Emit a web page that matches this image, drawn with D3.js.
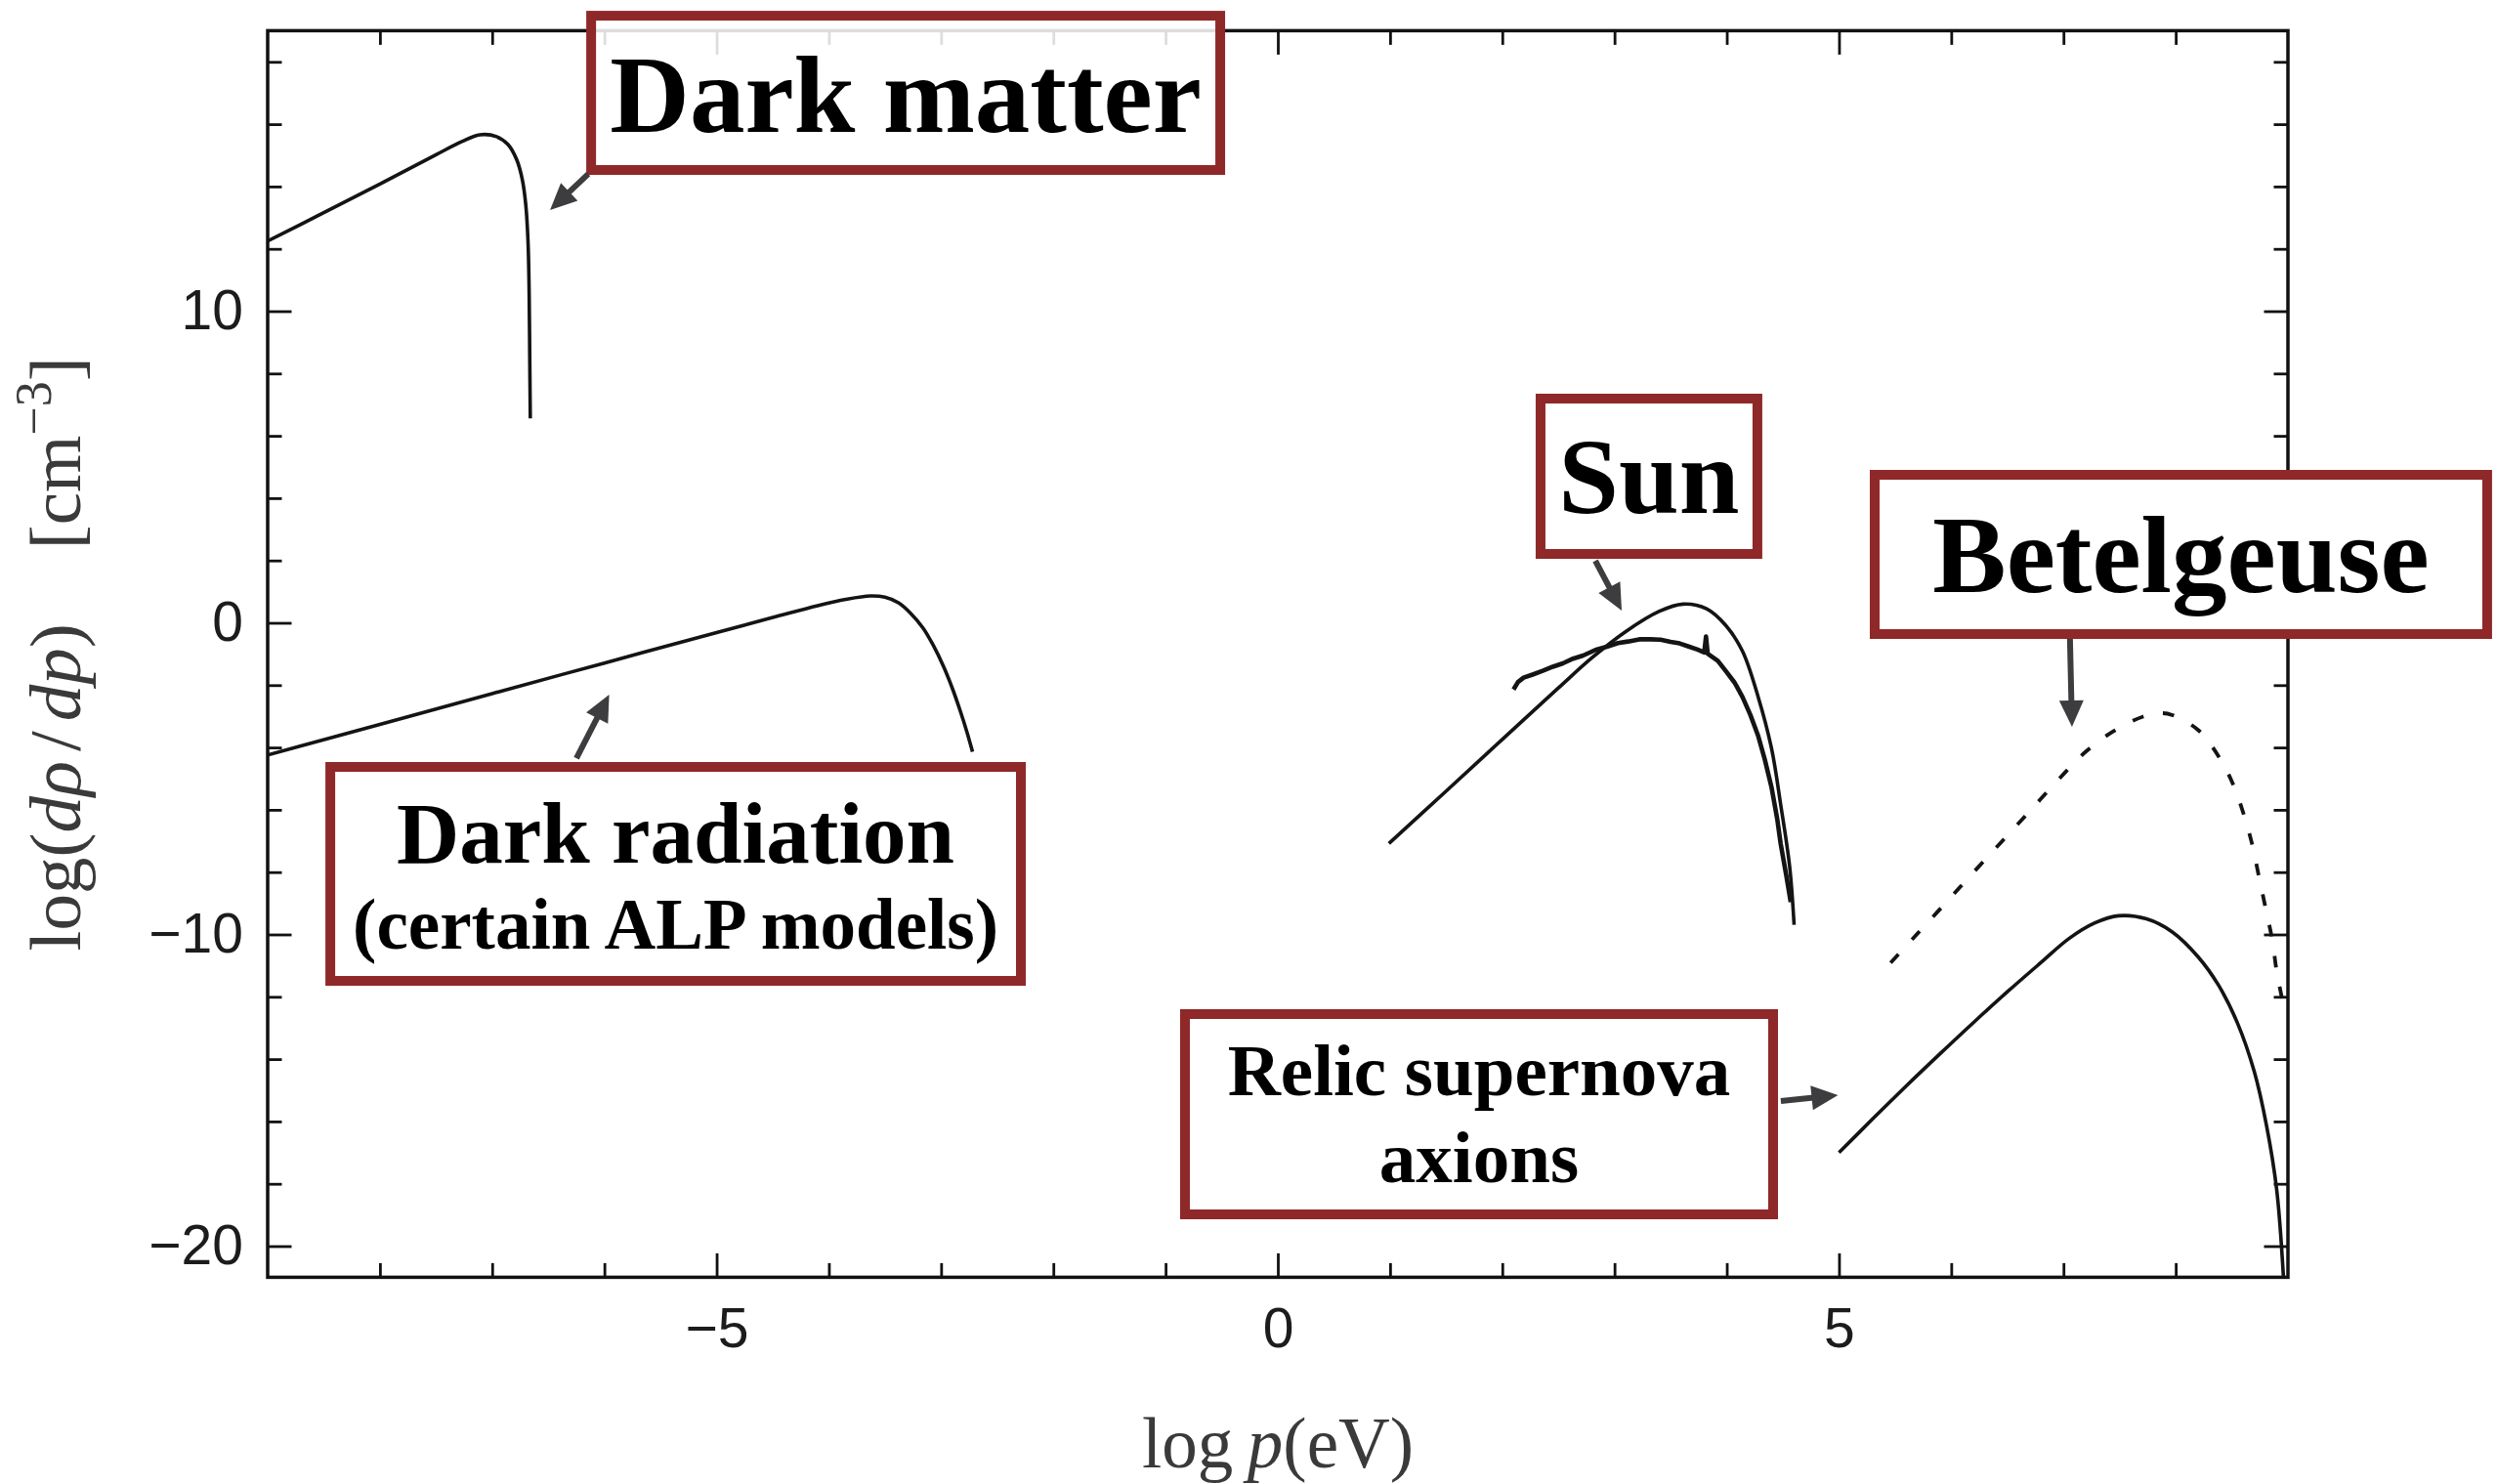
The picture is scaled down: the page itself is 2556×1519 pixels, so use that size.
<!DOCTYPE html>
<html>
<head>
<meta charset="utf-8">
<script src="https://cdn.jsdelivr.net/npm/d3@7"></script>
<style>
  html, body { margin: 0; padding: 0; background: #ffffff; }
  svg { display: block; }
</style>
</head>
<body>
<svg id="chart" width="2556" height="1519"></svg>
<script>
// ---- axes ----
const xDomain = [-9, 9];
const yDomain = [-21, 19];
const xMajorTicks = [-5, 0, 5];
const xMinorTicks = [-8, -7, -6, -4, -3, -2, -1, 1, 2, 3, 4, 6, 7, 8];
const yMajorTicks = [-20, -10, 0, 10];
const yMinorTicks = [-18, -16, -14, -12, -8, -6, -4, -2, 2, 4, 6, 8, 12, 14, 16, 18];

// ---- spectra: [log p (eV), log(dρ/dp) (cm^-3)] ----
const darkMatter = [
  [-9.00, 12.25], [-8.50, 13.16], [-8.00, 14.08], [-7.50, 15.02], [-7.27, 15.44],
  [-7.11, 15.66], [-6.96, 15.60], [-6.86, 15.35], [-6.78, 14.85], [-6.73, 14.20],
  [-6.70, 13.40], [-6.68, 12.20], [-6.67, 10.50], [-6.665, 8.50], [-6.66, 6.56]
];
const darkRadiation = [
  [-9.00, -4.24], [-8.00, -3.26], [-7.00, -2.27], [-6.00, -1.29], [-5.00, -0.31],
  [-4.50, 0.17], [-4.10, 0.55], [-3.85, 0.75], [-3.63, 0.86], [-3.50, 0.82],
  [-3.38, 0.64], [-3.27, 0.30], [-3.16, -0.17], [-3.07, -0.72], [-2.98, -1.39],
  [-2.90, -2.10], [-2.83, -2.82], [-2.77, -3.50], [-2.72, -4.14]
];
const sunModel = [
  [0.99, -7.08], [1.50, -5.40], [2.00, -3.74], [2.50, -2.09], [2.80, -1.12],
  [3.10, -0.28], [3.40, 0.37], [3.61, 0.60], [3.82, 0.45], [3.99, -0.08],
  [4.14, -0.91], [4.28, -2.38], [4.40, -4.05], [4.48, -5.82], [4.56, -7.81],
  [4.60, -9.69]
];
const sunSimulated = [
  [2.10, -2.14], [2.14, -1.90], [2.19, -1.76], [2.27, -1.66], [2.36, -1.54],
  [2.45, -1.41], [2.54, -1.30], [2.63, -1.15], [2.72, -1.05], [2.83, -0.87],
  [2.93, -0.77], [3.03, -0.65], [3.12, -0.60], [3.22, -0.53], [3.32, -0.53],
  [3.41, -0.54], [3.50, -0.61], [3.58, -0.66], [3.66, -0.76], [3.74, -0.86],
  [3.80, -0.95], [3.815, -0.44], [3.83, -0.99], [3.92, -1.22], [3.99, -1.54],
  [4.07, -1.92], [4.14, -2.38], [4.21, -2.95], [4.28, -3.63], [4.34, -4.40],
  [4.40, -5.30], [4.45, -6.30], [4.48, -7.08], [4.53, -8.10], [4.57, -8.96]
];
const betelgeuse = [
  [5.46, -10.91], [5.70, -9.97], [5.95, -8.99], [6.20, -8.00], [6.45, -7.02],
  [6.70, -6.04], [6.95, -5.05], [7.20, -4.13], [7.45, -3.47], [7.71, -3.01],
  [7.88, -2.90], [7.97, -2.96], [8.20, -3.44], [8.39, -4.33], [8.51, -5.17],
  [8.61, -6.19], [8.68, -7.09], [8.74, -8.12], [8.80, -9.14], [8.86, -10.17],
  [8.90, -11.19], [8.95, -12.10]
];
const relicSupernova = [
  [5.00, -17.00], [5.30, -15.92], [5.60, -14.86], [5.90, -13.83], [6.20, -12.82],
  [6.50, -11.84], [6.80, -10.90], [7.05, -10.13], [7.28, -9.63], [7.49, -9.40],
  [7.74, -9.50], [7.97, -9.92], [8.20, -10.72], [8.38, -11.62], [8.55, -12.84],
  [8.70, -14.40], [8.81, -16.15], [8.90, -18.20], [8.96, -21.00]
];

// ---- annotation boxes (data coordinates) ----
const labelBoxes = [
  { x0: -6.118, x1: -0.513, yTop: 19.48, yBot: 14.53, fillOpacity: 0.86,
    lines: [{ text: "Dark matter", y: 15.75, size: 113 }] },
  { x0: 2.341, x1: 4.273, yTop: 7.194, yBot: 2.21, fillOpacity: 1,
    lines: [{ text: "Sun", y: 3.539, size: 111 }] },
  { x0: 5.318, x1: 10.775, yTop: 4.749, yBot: -0.361, fillOpacity: 1,
    lines: [{ text: "Betelgeuse", y: 0.987, size: 113 }] },
  { x0: -8.442, x1: -2.289, yTop: -4.624, yBot: -11.489, fillOpacity: 1,
    lines: [{ text: "Dark radiation", y: -7.708, size: 89 },
            { text: "(certain ALP models)", y: -10.455, size: 73 }] },
  { x0: -0.827, x1: 4.413, yTop: -12.555, yBot: -18.981, fillOpacity: 1,
    lines: [{ text: "Relic supernova", y: -15.157, size: 75 },
            { text: "axions", y: -17.947, size: 75 }] }
];
// arrows from each box toward its curve: [x start, y start, x tip, y tip]
const labelArrows = [
  [-6.144, 14.40, -6.484, 13.245],
  [2.829, 1.991, 3.064, 0.392],
  [7.058, -0.517, 7.076, -3.339],
  [-6.249, -4.342, -5.957, -2.304],
  [4.482, -15.345, 4.991, -15.157]
];

// ---- layout ----
const W = 2556, H = 1519;
const plot = { left: 274, right: 2342, top: 31.4, bottom: 1307.4 };
const boxColor = "#8f2828";
const arrowColor = "#3d3d40";
const axisTextColor = "#3a3a3a";

const svg = d3.select("#chart");
svg.append("rect").attr("width", W).attr("height", H).attr("fill", "#ffffff");

const x = d3.scaleLinear().domain(xDomain).range([plot.left, plot.right]);
const y = d3.scaleLinear().domain(yDomain).range([plot.bottom, plot.top]);

svg.append("defs").append("clipPath").attr("id", "plot-clip")
  .append("rect")
  .attr("x", plot.left).attr("y", plot.top)
  .attr("width", plot.right - plot.left).attr("height", plot.bottom - plot.top);

const fmt = d => (d < 0 ? "\u2212" + Math.abs(d) : String(d));
const majorLen = 24.5, minorLen = 14.5;

function styleAxis(g) {
  g.select(".domain").remove();
  g.selectAll(".tick line").attr("stroke", "#111").attr("stroke-width", 2.8);
  g.selectAll(".tick text")
    .attr("font-family", "'Liberation Sans', Arial, Helvetica, sans-serif")
    .attr("font-size", 57)
    .attr("fill", "#1c1c1c");
}

// bottom
svg.append("g").attr("transform", `translate(0,${plot.bottom})`)
  .call(d3.axisBottom(x).tickValues(xMajorTicks).tickSize(-majorLen).tickPadding(31).tickFormat(fmt))
  .call(styleAxis);
svg.append("g").attr("transform", `translate(0,${plot.bottom})`)
  .call(d3.axisBottom(x).tickValues(xMinorTicks).tickSize(-minorLen).tickFormat(""))
  .call(styleAxis);
// top
svg.append("g").attr("transform", `translate(0,${plot.top})`)
  .call(d3.axisTop(x).tickValues(xMajorTicks).tickSize(-majorLen).tickFormat(""))
  .call(styleAxis);
svg.append("g").attr("transform", `translate(0,${plot.top})`)
  .call(d3.axisTop(x).tickValues(xMinorTicks).tickSize(-minorLen).tickFormat(""))
  .call(styleAxis);
// left
svg.append("g").attr("transform", `translate(${plot.left},0)`)
  .call(d3.axisLeft(y).tickValues(yMajorTicks).tickSize(-majorLen).tickPadding(25).tickFormat(fmt))
  .call(styleAxis);
svg.append("g").attr("transform", `translate(${plot.left},0)`)
  .call(d3.axisLeft(y).tickValues(yMinorTicks).tickSize(-minorLen).tickFormat(""))
  .call(styleAxis);
// right
svg.append("g").attr("transform", `translate(${plot.right},0)`)
  .call(d3.axisRight(y).tickValues(yMajorTicks).tickSize(-majorLen).tickFormat(""))
  .call(styleAxis);
svg.append("g").attr("transform", `translate(${plot.right},0)`)
  .call(d3.axisRight(y).tickValues(yMinorTicks).tickSize(-minorLen).tickFormat(""))
  .call(styleAxis);

// frame
svg.append("rect")
  .attr("x", plot.left).attr("y", plot.top)
  .attr("width", plot.right - plot.left).attr("height", plot.bottom - plot.top)
  .attr("fill", "none").attr("stroke", "#111").attr("stroke-width", 3.5);

// ---- curves ----
const smooth = d3.line().x(d => x(d[0])).y(d => y(d[1])).curve(d3.curveCatmullRom.alpha(0.5));
const jagged = d3.line().x(d => x(d[0])).y(d => y(d[1])).curve(d3.curveLinear);

const curves = svg.append("g").attr("clip-path", "url(#plot-clip)")
  .attr("fill", "none").attr("stroke", "#141414").attr("stroke-linejoin", "round");

curves.append("path").attr("d", smooth(darkMatter)).attr("stroke-width", 3.6);
curves.append("path").attr("d", smooth(darkRadiation)).attr("stroke-width", 3.6);
curves.append("path").attr("d", smooth(sunModel)).attr("stroke-width", 3.6);
curves.append("path").attr("d", jagged(sunSimulated)).attr("stroke-width", 4.6);
curves.append("path").attr("d", smooth(betelgeuse)).attr("stroke-width", 3.8)
  .attr("stroke-dasharray", "12,20");
curves.append("path").attr("d", smooth(relicSupernova)).attr("stroke-width", 3.6);

// ---- labelled boxes ----
const boxStroke = 10;
const boxes = svg.append("g");
labelBoxes.forEach(b => {
  const bx = x(b.x0), by = y(b.yTop);
  boxes.append("rect")
    .attr("x", bx).attr("y", by)
    .attr("width", x(b.x1) - bx).attr("height", y(b.yBot) - by)
    .attr("fill", "#ffffff").attr("fill-opacity", b.fillOpacity)
    .attr("stroke", boxColor).attr("stroke-width", boxStroke);
  const cx = (x(b.x0) + x(b.x1)) / 2;
  b.lines.forEach(l => {
    boxes.append("text")
      .attr("x", cx).attr("y", y(l.y))
      .attr("text-anchor", "middle")
      .attr("font-family", "'Liberation Serif', 'Times New Roman', serif")
      .attr("font-weight", "bold")
      .attr("font-size", l.size)
      .attr("fill", "#000")
      .text(l.text);
  });
});

// ---- arrows ----
const headLen = 27, headHalf = 12.5, shaftW = 6;
const arrows = svg.append("g");
labelArrows.forEach(([xs, ys, xt, yt]) => {
  const x1 = x(xs), y1 = y(ys), x2 = x(xt), y2 = y(yt);
  const len = Math.hypot(x2 - x1, y2 - y1);
  const ux = (x2 - x1) / len, uy = (y2 - y1) / len;
  const bxp = x2 - ux * headLen, byp = y2 - uy * headLen;
  arrows.append("line")
    .attr("x1", x1).attr("y1", y1).attr("x2", bxp + ux * 2).attr("y2", byp + uy * 2)
    .attr("stroke", arrowColor).attr("stroke-width", shaftW);
  const pts = [
    [x2, y2],
    [bxp - uy * headHalf, byp + ux * headHalf],
    [bxp + uy * headHalf, byp - ux * headHalf]
  ];
  arrows.append("polygon")
    .attr("points", pts.map(p => p.join(",")).join(" "))
    .attr("fill", arrowColor);
});

// ---- axis titles ----
const serif = "'Liberation Serif', 'Times New Roman', serif";
const xTitle = svg.append("text")
  .attr("x", x(0)).attr("y", 1502)
  .attr("text-anchor", "middle")
  .attr("font-family", serif).attr("font-size", 73)
  .attr("fill", axisTextColor);
xTitle.append("tspan").text("log\u2009");
xTitle.append("tspan").attr("font-style", "italic").text("p");
xTitle.append("tspan").text("(eV)");

const yTitle = svg.append("text")
  .attr("transform", `translate(82,${(plot.top + plot.bottom) / 2}) rotate(-90)`)
  .attr("text-anchor", "middle")
  .attr("font-family", serif).attr("font-size", 75)
  .attr("fill", axisTextColor);
yTitle.append("tspan").text("log(");
yTitle.append("tspan").attr("font-style", "italic").text("d\u03c1");
yTitle.append("tspan").attr("dx", 10).text("/");
yTitle.append("tspan").attr("dx", 10).attr("font-style", "italic").text("dp");
yTitle.append("tspan").text(")");
yTitle.append("tspan").attr("dx", 76).text("[cm");
yTitle.append("tspan").attr("font-size", 52).attr("dy", -30).text("\u22123");
yTitle.append("tspan").attr("dy", 30).text("]");
</script>
</body>
</html>
